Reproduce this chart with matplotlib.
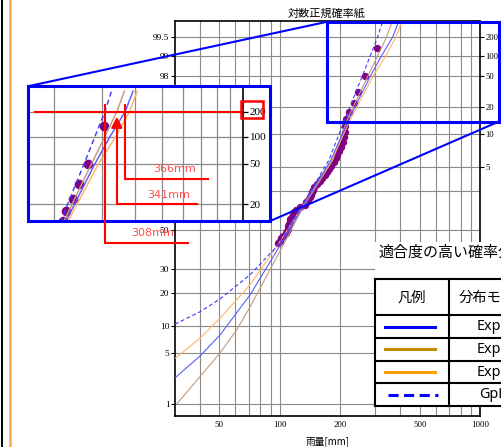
import matplotlib
matplotlib.use("Agg")
import matplotlib.pyplot as plt
import numpy as np
from statistics import NormalDist
from matplotlib.lines import Line2D
from matplotlib.patches import Rectangle, Polygon
from matplotlib.ticker import FixedLocator, NullLocator, FixedFormatter, NullFormatter

W, H = 501, 447
JP = ["Noto Sans CJK JP", "DejaVu Sans"]
SERIF = ["Liberation Serif", "DejaVu Serif"]

# ---------------- data ----------------
obs_rain = [307, 266.5, 246, 235, 221, 215, 213, 212, 209, 206, 202, 198, 194, 190,
            186, 180, 176, 172, 168, 163, 159, 154, 149, 146, 145, 143, 141, 138,
            136, 133, 126, 120, 118, 116.5, 115, 113, 112, 111, 110, 109.5, 108.6,
            107, 104.4, 102, 100.2, 98.5]
obs_prob = [99.25, 98.00, 96.76, 95.51, 94.26, 93.02, 91.77, 90.52, 89.28, 88.03,
            86.78, 85.54, 84.29, 83.04, 81.80, 80.55, 79.30, 78.05, 76.81, 75.56,
            74.31, 73.07, 71.82, 70.57, 69.33, 68.08, 66.83, 65.59, 64.34, 63.09,
            61.85, 60.60, 59.35, 58.10, 56.86, 55.61, 54.36, 53.12, 51.87, 50.62,
            49.38, 48.13, 46.88, 45.64, 44.39, 43.14]

gpl_rain = [30, 40, 50.3, 71, 96.6, 127, 176, 212, 258, 283, 308, 326]
gpl_prob = [10.4, 13.7, 17.8, 27.4, 41.2, 61.4, 82.5, 93.15, 98.0, 99.0, 99.5, 99.73]

expl_rain = [30, 40, 50.3, 71, 98.4, 129, 180, 222, 283, 322, 366, 392]
expl_prob = [2.4, 4.6, 8.0, 19.2, 40.3, 61.4, 82.5, 93.15, 98.0, 99.0, 99.5, 99.73]

expr_rain = [30.6, 40, 50.3, 61, 71, 101, 130, 184, 218, 275, 308, 341, 364]
expr_prob = [1.0, 2.5, 5.0, 9.1, 15.1, 39.5, 61.4, 82.5, 93.15, 98.0, 99.0, 99.5, 99.73]

expc_rain = [30, 40, 50.3, 62, 71, 96.6, 128, 182, 226, 292, 338, 380, 406]
expc_prob = [4.3, 7.4, 11.9, 18.1, 23.1, 41.2, 61.4, 82.5, 93.15, 98.0, 99.0, 99.5, 99.73]

x_ticks = [50, 100, 200, 500, 1000]
x_tick_labels = ["50", "100", "200", "500", "1000"]
x_minor = [40, 60, 70, 80, 90, 300, 400, 600, 700, 800, 900]
p_ticks = [1, 5, 10, 20, 30, 50, 70, 80, 90, 95, 98, 99, 99.5]
p_labels = ["1", "5", "10", "20", "30", "50", "", "", "", "", "98", "99", "99.5"]
rp_ticks = [80, 90, 95, 98, 99, 99.5]
rp_labels = ["5", "10", "20", "50", "100", "200"]
inset_x_grid = [200, 300, 400, 500, 600, 700, 800, 900]
inset_p_ticks = [95, 98, 99, 99.5]
inset_rp_labels = ["20", "50", "100", "200"]

ann_values = [308, 341, 366]
legend_names = ["ExpL", "ExpR", "ExpC", "GpL"]
legend_colors = ["#0000ff", "#be8c00", "#ffa000", "#0000ff"]

# ---------------- scale ----------------
_nd = NormalDist()


def _fwd(p):
    a = np.asarray(p, dtype=float)
    flat = np.clip(a.ravel() / 100.0, 1e-9, 1 - 1e-9)
    return np.array([_nd.inv_cdf(v) if np.isfinite(v) else np.nan for v in flat]).reshape(a.shape)


def _inv(z):
    a = np.asarray(z, dtype=float)
    return np.array([_nd.cdf(v) * 100.0 if np.isfinite(v) else np.nan for v in a.ravel()]).reshape(a.shape)


def fxy(x, y):
    return (x / W, 1 - y / H)


fig = plt.figure(figsize=(W / 100, H / 100), dpi=100)
fig.patch.set_facecolor("white")

series = [
    (expr_rain, expr_prob, "#c39b7d", "-"),
    (expc_rain, expc_prob, "#ffb466", "-"),
    (expl_rain, expl_prob, "#5c5cff", "-"),
    (gpl_rain, gpl_prob, "#3c3cff", "--"),
]


def draw_content(a, lw, s):
    a.scatter(obs_rain, obs_prob, s=s, color="#800080", lw=0, zorder=2)
    for xr, pr, c, ls in series:
        if ls == "--":
            a.plot(xr, pr, color=c, lw=lw, dashes=(3.5, 2.3), zorder=3)
        else:
            a.plot(xr, pr, color=c, lw=lw, zorder=3)


# ---------------- main axes ----------------
ax = fig.add_axes([175 / W, 1 - 415.7 / H, 305 / W, 394.7 / H])
ax.set_zorder(0)
ax.set_xscale("log")
ax.set_yscale("function", functions=(_fwd, _inv))
ax.set_xlim(30, 1000)
ylo, yhi = _nd.cdf(-2.483) * 100, _nd.cdf(2.794) * 100
ax.set_ylim(ylo, yhi)
ax.xaxis.set_major_locator(FixedLocator(x_ticks))
ax.xaxis.set_major_formatter(FixedFormatter(x_tick_labels))
ax.xaxis.set_minor_locator(FixedLocator(x_minor))
ax.xaxis.set_minor_formatter(NullFormatter())
ax.yaxis.set_major_locator(FixedLocator(p_ticks))
ax.yaxis.set_major_formatter(FixedFormatter(p_labels))
ax.yaxis.set_minor_locator(NullLocator())
ax.tick_params(axis="x", which="both", length=0, pad=4, labelsize=6.3)
ax.tick_params(axis="y", which="major", length=3, width=0.8, pad=1, labelsize=6.8)
for lab in ax.get_xticklabels() + ax.get_yticklabels():
    lab.set_fontfamily(SERIF)
ax.grid(True, which="both", color="#8a8a8a", lw=0.8)
ax.set_axisbelow(True)
for sp in ax.spines.values():
    sp.set_linewidth(1.2)
draw_content(ax, 0.8, 28)

ax2 = ax.twinx()
ax2.set_yscale("function", functions=(_fwd, _inv))
ax2.set_ylim(ylo, yhi)
ax2.yaxis.set_major_locator(FixedLocator(rp_ticks))
ax2.yaxis.set_major_formatter(FixedFormatter(rp_labels))
ax2.yaxis.set_minor_locator(NullLocator())
ax2.tick_params(axis="y", length=3, width=0.8, pad=1, labelsize=6.2)
for lab in ax2.get_yticklabels():
    lab.set_fontfamily(SERIF)
for sp in ax2.spines.values():
    sp.set_visible(False)

fig.text(326.5 / W, 1 - 14 / H, "対数正規確率紙", ha="center", va="center",
         fontsize=8, family=JP)
fig.text(327 / W, 1 - 441.5 / H, "雨量[mm]", ha="center", va="center",
         fontsize=7, family=JP)

# left decorative page strips
fig.add_artist(Line2D([1.8 / W] * 2, [0, 1], transform=fig.transFigure,
                      color="black", lw=1.4, zorder=1))
fig.add_artist(Line2D([10.2 / W] * 2, [0, 1], transform=fig.transFigure,
                      color="#ffa54a", lw=1.8, zorder=1))

# ---------------- zoom source box and connectors ----------------
BLUE = "#0000ff"
fig.add_artist(Rectangle(fxy(327.3, 121.7), 171.2 / W, 100 / H, transform=fig.transFigure,
                         fill=False, ec=BLUE, lw=2.2, zorder=5))
fig.add_artist(Line2D([28.3 / W, 327.3 / W], [1 - 86.2 / H, 1 - 21.7 / H],
                      transform=fig.transFigure, color=BLUE, lw=1.5, zorder=5))
fig.add_artist(Line2D([269.5 / W, 498.5 / W], [1 - 221.3 / H, 1 - 121.7 / H],
                      transform=fig.transFigure, color=BLUE, lw=1.5, zorder=5))

# ---------------- magnified inset ----------------
fig.add_artist(Rectangle(fxy(28.3, 221.3), 241.2 / W, 135.1 / H, transform=fig.transFigure,
                         fill=True, fc="white", ec="none", zorder=6))
axi = fig.add_axes([28.3 / W, 1 - 221.3 / H, 214.4 / W, 135.1 / H])
axi.set_zorder(7)
axi.set_xscale("log")
axi.set_yscale("function", functions=(_fwd, _inv))
axi.set_xlim(160.1, 1000)
axi.set_ylim(_nd.cdf(1.4745) * 100, _nd.cdf(2.832) * 100)
axi.xaxis.set_major_locator(FixedLocator(inset_x_grid))
axi.xaxis.set_major_formatter(NullFormatter())
axi.xaxis.set_minor_locator(NullLocator())
axi.yaxis.set_major_locator(FixedLocator(inset_p_ticks))
axi.yaxis.set_major_formatter(FixedFormatter(inset_rp_labels))
axi.yaxis.set_minor_locator(NullLocator())
axi.yaxis.tick_right()
axi.tick_params(axis="x", length=0)
axi.tick_params(axis="y", length=3.5, width=0.9, pad=1.5, labelsize=8)
for lab in axi.get_yticklabels():
    lab.set_fontfamily(SERIF)
axi.grid(True, color="#8a8a8a", lw=0.9)
axi.set_axisbelow(True)
for k in ["left", "top", "bottom"]:
    axi.spines[k].set_visible(False)
axi.spines["right"].set_linewidth(1.2)
draw_content(axi, 1.05, 48)

fig.add_artist(Rectangle(fxy(28.3, 221.3), 241.2 / W, 135.1 / H, transform=fig.transFigure,
                         fill=False, ec=BLUE, lw=2.2, zorder=8))

# ---------------- red annotations ----------------
RED = "#ff0000"
TRED = "#ff4d4d"
lvl_y = H - axi.transData.transform((500, 99.5))[1]
vx = [axi.transData.transform((v, 99.5))[0] for v in ann_values]


def fline(xs, ys, **kw):
    fig.add_artist(Line2D([x / W for x in xs], [1 - y / H for y in ys],
                          transform=fig.transFigure, zorder=9, **kw))


fline([35, 240.5], [lvl_y, lvl_y], color=RED, lw=1.5)
fig.add_artist(Rectangle(fxy(240.5, lvl_y + 6.5), 22.5 / W, 17 / H, transform=fig.transFigure,
                         fill=False, ec=RED, lw=1.8, zorder=9))
ends = [(243.3, 188.3, 153, 233.3), (204.3, 196.7, 168.3, 195), (179, 208.3, 174.3, 169.3)]
for i, (v, x0) in enumerate(zip(ann_values, vx)):
    yb, xe, tx, ty = ends[i]
    if i == 1:
        tip = lvl_y + 6.5
        fline([x0, x0], [yb, tip + 8], color=RED, lw=1.5)
        fig.add_artist(Polygon([fxy(x0, tip), fxy(x0 - 5, tip + 10), fxy(x0 + 5, tip + 10)],
                               closed=True, transform=fig.transFigure, color=RED, zorder=9))
    else:
        fline([x0, x0], [lvl_y - 7, yb], color=RED, lw=1.5)
    fline([x0, xe], [yb, yb], color=RED, lw=1.5)
    fig.text(tx / W, 1 - ty / H, f"{v}mm", ha="center", va="center", fontsize=8,
             color=TRED, family=["DejaVu Sans"], zorder=9)

# ---------------- legend table ----------------
fig.add_artist(Rectangle(fxy(375, 405.7), 140 / W, 164 / H, transform=fig.transFigure,
                         fill=True, fc="white", ec="none", zorder=6))
fig.text(378 / W, 1 - 253 / H, "適合度の高い確率分布", ha="left", va="center",
         fontsize=10.8, family=JP, zorder=7)
row_lines = [279, 315.3, 337.7, 360.7, 383.3, 405.7]
for y in row_lines:
    fline([375, 520], [y, y], color="black", lw=1.5)
fline([375, 375], [279, 405.7], color="black", lw=1.5)
fline([449, 449], [279, 405.7], color="black", lw=1.5)
fig.text(412 / W, 1 - 298 / H, "凡例", ha="center", va="center", fontsize=10.3,
         family=JP, zorder=9)
fig.text(494 / W, 1 - 298 / H, "分布モデル", ha="center", va="center", fontsize=10.3,
         family=JP, zorder=9)
for i, name in enumerate(legend_names):
    yc = (row_lines[i + 1] + row_lines[i + 2]) / 2
    if name == "GpL":
        fline([388, 438], [yc, yc], color=legend_colors[i], lw=2.2, dashes=(3.3, 1.8))
    else:
        fline([385, 435], [yc, yc], color=legend_colors[i], lw=2.2)
    fig.text(493 / W, 1 - yc / H, name, ha="center", va="center", fontsize=10.3,
             family=["Noto Sans", "DejaVu Sans"], zorder=9)

fig.savefig("out.png", dpi=100)
